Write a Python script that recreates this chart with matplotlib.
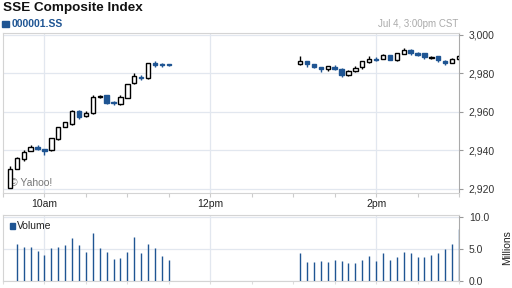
import numpy as np
import matplotlib
matplotlib.use("Agg")
import matplotlib.pyplot as plt
from matplotlib.ticker import FuncFormatter, MultipleLocator

plt.rcParams['font.family'] = ['Liberation Sans', 'DejaVu Sans']

# minutes after 9:30 (5-min bars, stamped at bar end)
am_times = list(range(5, 121, 5))      # 9:35 .. 11:30
pm_times = list(range(215, 331, 5))    # 13:05 .. 15:00

am_open = [2920.5, 2930.4, 2935.3, 2939.6, 2941.7, 2940.5, 2940.1, 2945.8, 2952.1, 2953.5, 2960.5, 2957.7,
           2959.1, 2967.8, 2968.5, 2964.8, 2963.8, 2967.3, 2974.8, 2978.2, 2977.4, 2985.5, 2984.8, 2984.7]
am_close = [2930.4, 2935.7, 2939.1, 2941.4, 2940.4, 2939.3, 2946.1, 2951.8, 2954.4, 2960.5, 2957.0, 2959.4,
            2967.5, 2968.4, 2964.3, 2964.3, 2967.5, 2974.3, 2978.6, 2977.6, 2985.2, 2984.2, 2984.3, 2984.3]
am_high = [2931.6, 2936.5, 2940.0, 2942.6, 2942.6, 2940.8, 2946.5, 2952.2, 2954.8, 2960.8, 2960.8, 2960.2,
           2968.5, 2968.6, 2968.8, 2965.4, 2968.7, 2974.6, 2980.3, 2979.0, 2985.5, 2986.3, 2985.5, 2985.0]
am_low = [2920.3, 2930.2, 2934.4, 2939.4, 2940.2, 2937.7, 2939.8, 2945.5, 2951.9, 2953.2, 2956.0, 2957.0,
          2958.9, 2967.0, 2964.0, 2963.3, 2963.5, 2967.0, 2974.4, 2976.5, 2976.9, 2983.4, 2983.4, 2983.8]

pm_open = [2984.7, 2986.4, 2984.7, 2983.1, 2982.1, 2983.4, 2982.1, 2979.3, 2981.0, 2983.1, 2985.7, 2987.6,
           2987.6, 2989.4, 2986.8, 2990.1, 2992.2, 2990.4, 2990.4, 2988.0, 2988.7, 2986.3, 2985.5, 2987.3]
pm_close = [2986.6, 2984.7, 2983.1, 2982.4, 2983.7, 2982.1, 2979.3, 2981.4, 2982.6, 2986.3, 2987.5, 2986.9,
            2989.7, 2986.9, 2990.4, 2992.2, 2990.7, 2989.7, 2988.3, 2988.6, 2986.9, 2985.5, 2987.6, 2989.0]
pm_high = [2988.7, 2986.6, 2984.9, 2983.3, 2983.9, 2984.2, 2982.6, 2981.6, 2983.5, 2986.5, 2988.7, 2988.3,
           2990.0, 2989.6, 2990.6, 2993.2, 2992.8, 2990.8, 2990.6, 2989.2, 2988.9, 2987.0, 2987.8, 2989.6]
pm_low = [2984.5, 2983.1, 2982.8, 2980.8, 2981.3, 2981.9, 2978.2, 2978.8, 2980.8, 2982.4, 2985.5, 2986.3,
          2987.4, 2986.7, 2986.6, 2989.9, 2989.7, 2989.0, 2987.3, 2987.6, 2985.9, 2984.4, 2985.3, 2987.1]

# volume in millions
am_vol_times = list(range(10, 121, 5))  # 9:40 .. 11:30
am_vol = [5.88, 5.26, 5.26, 4.74, 4.12, 5.10, 5.41, 5.57, 6.75, 5.57, 4.59, 7.58,
          5.10, 4.59, 3.51, 3.66, 4.59, 6.96, 4.33, 5.88, 5.10, 3.97, 3.35]
pm_vol = [4.43, 3.04, 3.04, 3.20, 3.04, 3.30, 3.20, 2.89, 2.89, 3.30, 3.97, 3.20,
          4.33, 3.30, 3.81, 4.59, 4.43, 3.81, 3.81, 4.12, 4.33, 5.00, 5.82, 8.14]

time_ticks = [30, 150, 270]
time_labels = ["10am", "12pm", "2pm"]
price_ticks = [2920, 2940, 2960, 2980, 3000]
vol_ticks = [0, 5, 10]

blue = "#1f5593"
grid = "#e2e7ef"
spine = "#d4d4d4"

fig = plt.figure(figsize=(5.12, 2.88), dpi=100)
fig.patch.set_facecolor("white")

ax = fig.add_axes([3 / 512, 1 - 193 / 288, 456 / 512, 160 / 288])
av = fig.add_axes([3 / 512, 1 - 281 / 288, 456 / 512, 66 / 288])

times = am_times + pm_times
opens = am_open + pm_open
closes = am_close + pm_close
highs = am_high + pm_high
lows = am_low + pm_low
w = 3.2
for t, o, c, h, l in zip(times, opens, closes, highs, lows):
    up = c >= o
    col = "black" if up else blue
    ax.vlines(t, l, h, color=col, lw=1.0, zorder=3)
    bot = min(o, c)
    hgt = max(abs(c - o), 0.35)
    ax.add_patch(plt.Rectangle((t - w / 2, bot), w, hgt,
                               facecolor="white" if up else blue,
                               edgecolor=col, lw=1.0, zorder=4))

ax.set_xlim(0, 330)
ax.set_ylim(2917.7, 3000.9)
ax.set_yticks(price_ticks)
ax.yaxis.set_major_formatter(FuncFormatter(lambda v, p: f"{v:,.0f}"))
ax.yaxis.tick_right()
ax.set_xticks(time_ticks)
ax.set_xticklabels(time_labels)
ax.xaxis.set_minor_locator(MultipleLocator(30))
ax.grid(True, color=grid, lw=0.9, zorder=0)
ax.tick_params(axis="y", length=3, width=0.8, color="#999999", labelsize=7.5,
               labelcolor="#333333", pad=4)
ax.tick_params(axis="x", which="both", length=3, width=0.8, color="#cccccc",
               labelsize=7.5, labelcolor="#222222", pad=1.5)
for s in ax.spines.values():
    s.set_color(spine)
    s.set_linewidth(0.8)
ax.spines["right"].set_color("#aaaaaa")

ax.text(7 / 456, (193 - 183) / 160, "\u00a9 Yahoo!", transform=ax.transAxes,
        fontsize=7.5, color="#777777", va="center", ha="left")

av.vlines(am_vol_times, 0, am_vol, color=blue, lw=1.0, zorder=3)
av.vlines(pm_times, 0, pm_vol, color=blue, lw=1.0, zorder=3)
av.set_xlim(0, 330)
av.set_ylim(0, 10.35)
av.set_yticks(vol_ticks)
av.yaxis.set_major_formatter(FuncFormatter(lambda v, p: f"{v:.1f}"))
av.yaxis.tick_right()
av.set_xticks(time_ticks)
av.set_xticklabels([])
av.xaxis.set_minor_locator(MultipleLocator(30))
av.grid(True, color=grid, lw=0.9, zorder=0)
av.tick_params(axis="y", length=3, width=0.8, color="#999999", labelsize=7.5,
               labelcolor="#333333", pad=4)
av.tick_params(axis="x", which="both", length=2, width=0.8, color="#dddddd")
for s in av.spines.values():
    s.set_color(spine)
    s.set_linewidth(0.8)
av.spines["right"].set_color("#aaaaaa")

av.add_patch(plt.Rectangle((7 / 456, (281 - 229) / 66), 5 / 456, 6 / 66,
                           transform=av.transAxes, color=blue, clip_on=False))
av.text(14 / 456, (281 - 226) / 66, "Volume", transform=av.transAxes,
        fontsize=7.5, color="#222222", va="center", ha="left")
fig.text(507 / 512, 1 - 248 / 288, "Millions", rotation=90, fontsize=7.5,
         color="#222222", va="center", ha="center")

# header
fig.text(3 / 512, 1 - 8 / 288, "SSE Composite Index", fontsize=9.7, fontweight="bold",
         color="#111111", va="center", ha="left")
fig.patches.append(plt.Rectangle((2 / 512, 1 - 27 / 288), 7 / 512, 6 / 288,
                                 transform=fig.transFigure, color=blue))
fig.text(12 / 512, 1 - 24 / 288, "000001.SS", fontsize=7.5, fontweight="bold",
         color=blue, va="center", ha="left")
fig.text(458 / 512, 1 - 24 / 288, "Jul 4, 3:00pm CST", fontsize=7, color="#aaaaaa",
         va="center", ha="right")

fig.savefig("out.png", dpi=100)
